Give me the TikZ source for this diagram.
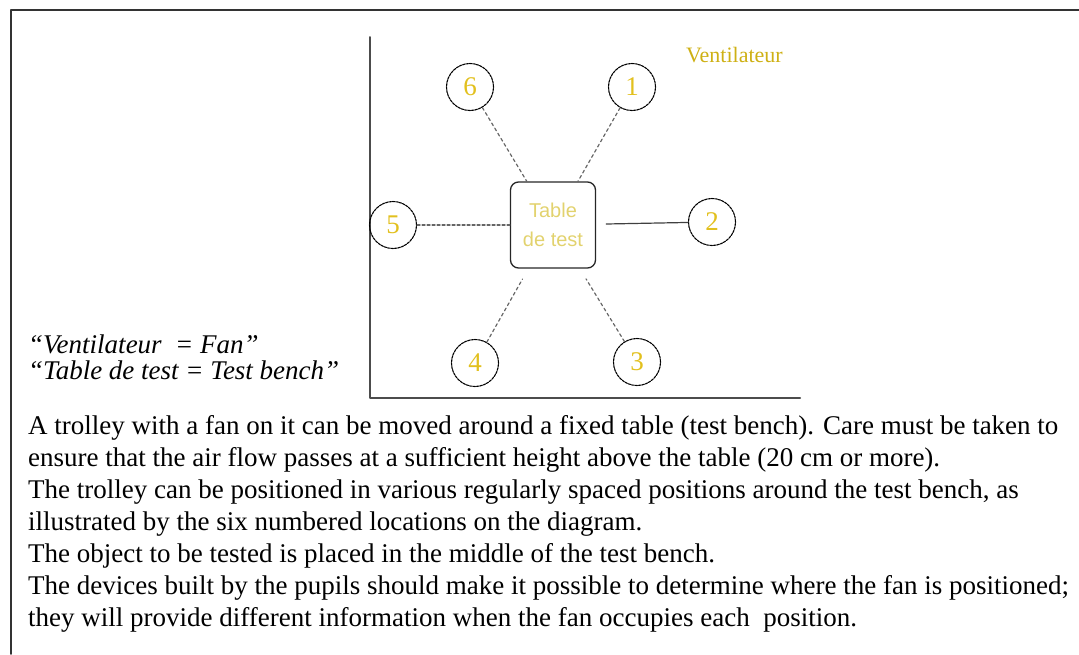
\documentclass[tikz,border=0pt]{standalone}
\usepackage{fontspec}
\setmainfont{Liberation Serif}
\setsansfont{Liberation Sans}
\usetikzlibrary{positioning}

\definecolor{digit}{RGB}{226,192,30}
\definecolor{fantxt}{RGB}{206,176,20}
\definecolor{benchtxt}{RGB}{226,210,110}

\begin{document}
\begin{tikzpicture}[x=1pt, y=-1pt, line join=round, line cap=round,
	spot/.style={circle, draw=black, dash pattern=on 2.5pt off 1pt, line width=1.1pt, minimum size=47pt, inner sep=0pt, text=digit, font=\fontsize{27}{27}\selectfont},
	bench/.style={draw=black!85, line width=1.3pt, rounded corners=8pt, minimum width=85pt, minimum height=86pt, inner sep=0pt, align=center, text=benchtxt, font=\sffamily\fontsize{20}{29}\selectfont},
	link/.style={draw=black!60, dashed, line width=1.2pt}]
	\useasboundingbox (0,0) rectangle (1079,654);
	
	\draw[line width=1.5pt, black!80] (11,654) -- (11,10) -- (1079,10);
	\draw[line width=2pt, black!70] (370,37) -- (370,398) -- (800,398);
	
	\node[bench] (T) at (553,225) {Table\\de test};
	\foreach \n/\x/\y in {1/632/87, 2/712/222, 3/637/362, 4/475/363, 5/393/225, 6/470/87}
		\node[spot] (p\n) at (\x,\y) {\n};
	\node[text=fantxt, font=\fontsize{22}{22}\selectfont, anchor=west, inner sep=0pt] (fan) at (686,55) {Ventilateur};
	
	\draw[link] (p6) -- (T);
	\draw[link] (p1) -- (T);
	\draw[link, densely dashed] (p5) -- (T);
	\draw[link, shorten >=12pt] (p4) -- (T);
	\draw[link, shorten >=12pt] (p3) -- (T);
	\draw[black!75, line width=1.2pt, shorten <=10pt] (T) -- (p2);
	
	\node[anchor=west, align=left, inner sep=0pt, font=\itshape\fontsize{27}{26}\selectfont] (key) at (28,357) {“Ventilateur~ = Fan”\\“Table de test = Test bench”};
	
	\node[anchor=north west, align=left, inner sep=0pt, font=\fontsize{27}{32}\selectfont] (txt) at (28,415) {A trolley with a fan on it can be moved around a fixed table (test bench). Care must be taken to\\
		ensure that the air flow passes at a sufficient height above the table (20 cm or more).\\
		The trolley can be positioned in various regularly spaced positions around the test bench, as\\
		illustrated by the six numbered locations on the diagram.\\
		The object to be tested is placed in the middle of the test bench.\\
		The devices built by the pupils should make it possible to determine where the fan is positioned;\\
		they will provide different information when the fan occupies each~ position.};
\end{tikzpicture}
\end{document}
